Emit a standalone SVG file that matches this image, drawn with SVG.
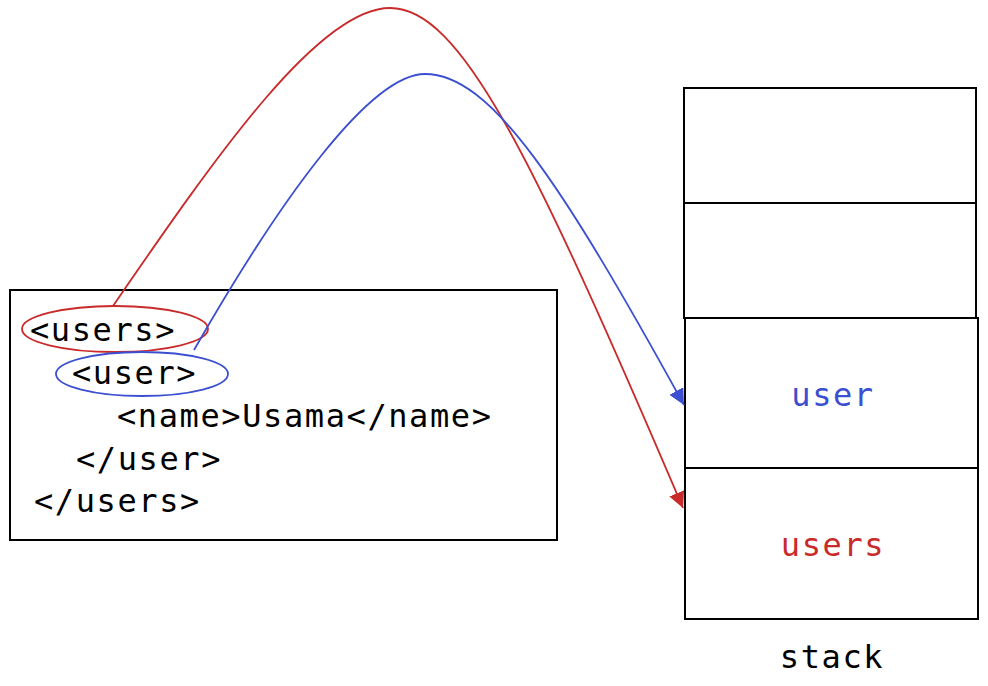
<svg xmlns="http://www.w3.org/2000/svg" width="988" height="686" viewBox="0 0 988 686">
<defs>
<style>
.t{font-family:"DejaVu Sans Mono","Liberation Mono",monospace;font-size:32px;letter-spacing:1.6px;fill:#000}
.box{fill:#fff;stroke:#000;stroke-width:2}
.red{stroke:#c92a2a;fill:none;stroke-width:1.8}
.blue{stroke:#3b4fd0;fill:none;stroke-width:1.8}
</style>
<marker id="ar" viewBox="0 0 10 10" refX="10" refY="5" markerWidth="16" markerHeight="16" markerUnits="userSpaceOnUse" orient="auto"><path d="M0,0L10,5L0,10z" fill="#c92a2a"/></marker>
<marker id="ab" viewBox="0 0 10 10" refX="10" refY="5" markerWidth="16" markerHeight="16" markerUnits="userSpaceOnUse" orient="auto"><path d="M0,0L10,5L0,10z" fill="#3b4fd0"/></marker>
</defs>
<rect width="988" height="686" fill="#fff"/>
<g id="xml">
<rect class="box" x="10" y="290" width="547" height="250"/>
<text class="t" x="30" y="341">&lt;users&gt;</text>
<text class="t" x="72" y="384">&lt;user&gt;</text>
<text class="t" x="117" y="427">&lt;name&gt;Usama&lt;/name&gt;</text>
<text class="t" x="76" y="470">&lt;/user&gt;</text>
<text class="t" x="34" y="512">&lt;/users&gt;</text>
<ellipse class="red" cx="115" cy="329" rx="93" ry="23"/>
<ellipse class="blue" cx="142" cy="374" rx="86" ry="22"/>
</g>
<g id="stack">
<rect class="box" x="684" y="88" width="292" height="115"/>
<rect class="box" x="684" y="203" width="292" height="115"/>
<rect class="box" x="685" y="318" width="293" height="150"/>
<rect class="box" x="685" y="468" width="293" height="151"/>
<text class="t" x="833" y="406" text-anchor="middle" style="fill:#3b4fd0">user</text>
<text class="t" x="833" y="556" text-anchor="middle" style="fill:#c92a2a">users</text>
<text class="t" x="832" y="668" text-anchor="middle">stack</text>
</g>
<g id="connectors">
<path class="red" d="M113,306 C220,150 320,8 390,8 C460,8 530,150 683,508" marker-end="url(#ar)"/>
<path class="blue" d="M194,350 C280,200 370,74 425,74 C490,74 560,180 684,405" marker-end="url(#ab)"/>
</g>
</svg>
